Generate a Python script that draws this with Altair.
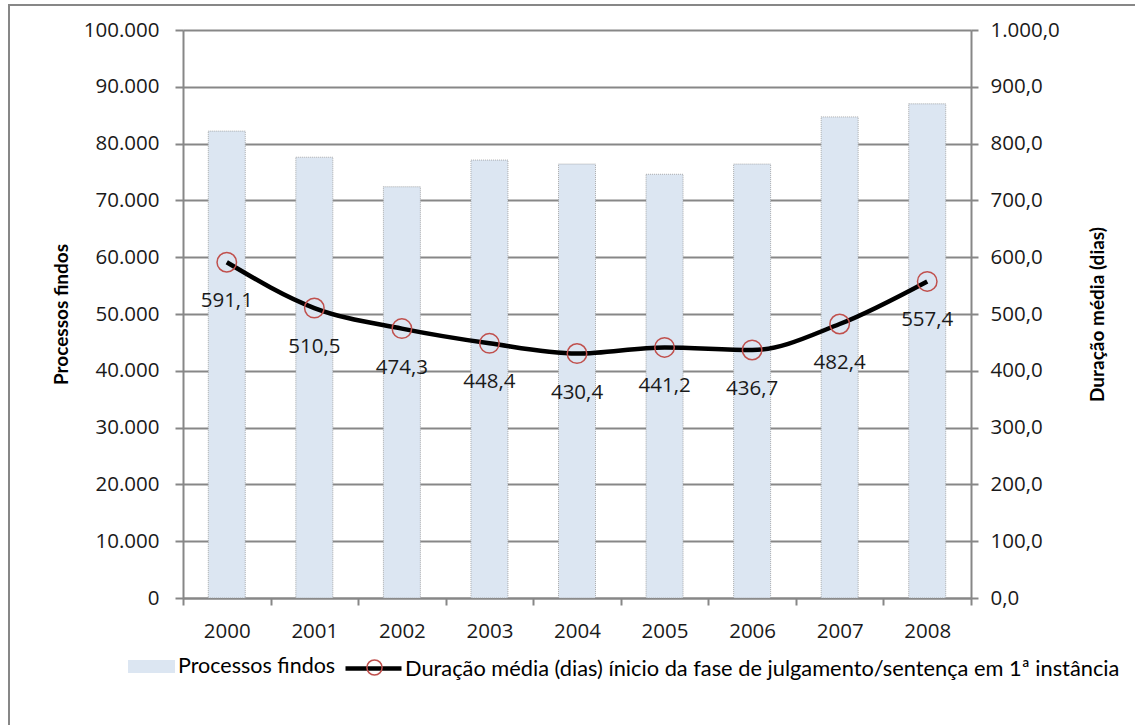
import altair as alt
import pandas as pd

# --- data -------------------------------------------------------------
anos = ["2000", "2001", "2002", "2003", "2004", "2005", "2006", "2007", "2008"]
processos_findos = [82200, 77600, 72400, 77100, 76400, 74600, 76400, 84700, 87000]
duracao_media = [591.1, 510.5, 474.3, 448.4, 430.4, 441.2, 436.7, 482.4, 557.4]

serie_barras = "Processos findos"
serie_linha = "Duração média (dias) ínicio da fase de julgamento/sentença em 1ª instância"

eixo_esq_valores = list(range(0, 100001, 10000))
eixo_dir_valores = list(range(0, 1001, 100))

df = pd.DataFrame({
    "ano": anos,
    "processos": processos_findos,
    "duracao": duracao_media,
    "s_bar": serie_barras,
    "s_line": serie_linha,
    "s_pt": " ",
})

# --- styling ------------------------------------------------------------
CINZA = "#878787"
TXT = "#1a1a1a"
FONTE = "Open Sans"
FONTE_TIT = "Lato"
FONTE_LEG = "Lato"

x_enc = alt.X(
    "ano:N", title=None, sort=anos,
    scale=alt.Scale(paddingInner=0, paddingOuter=0),
    axis=alt.Axis(labelAngle=0, tickBand="extent", grid=False,
                  domainColor=CINZA, domainWidth=2,
                  tickColor=CINZA, tickWidth=2, tickSize=7,
                  labelPadding=16, labelFont=FONTE, labelFontSize=20.5,
                  labelColor=TXT),
)

eixo_dir = alt.Axis(orient="right", title="Duração média (dias)", values=eixo_dir_valores,
                    format=",.1f", grid=False,
                    domainColor=CINZA, domainWidth=2,
                    tickColor=CINZA, tickWidth=2, tickSize=7,
                    labelPadding=12, labelFont=FONTE, labelFontSize=20.5, labelColor=TXT,
                    titleFont=FONTE_TIT, titleFontSize=19, titleFontWeight="bold",
                    titleColor="#000000", titleAngle=270, titleBaseline="top",
                    titlePadding=29)

y_dir = alt.Y("duracao:Q", scale=alt.Scale(domain=[0, 1000]), axis=eixo_dir)

# outer frame of the chart
moldura = alt.Chart(pd.DataFrame({"k": [0]})).mark_rect(
    fill="transparent", stroke=CINZA, strokeWidth=2
).encode(x=alt.value(-174), x2=alt.value(960), y=alt.value(-25), y2=alt.value(705))

barras = alt.Chart(df).mark_bar(
    size=37, stroke="#9a9a9a", strokeWidth=1, strokeDash=[1, 1], strokeOpacity=0.8
).encode(
    x=x_enc,
    y=alt.Y("processos:Q",
            scale=alt.Scale(domain=[0, 100000]),
            axis=alt.Axis(orient="left", title="Processos findos", values=eixo_esq_valores,
                          format=",d", grid=True, gridColor=CINZA, gridWidth=2,
                          domainColor=CINZA, domainWidth=2,
                          tickColor=CINZA, tickWidth=2, tickSize=8,
                          labelPadding=16, labelFont=FONTE, labelFontSize=20.5, labelColor=TXT,
                          titleFont=FONTE_TIT, titleFontSize=19, titleFontWeight="bold",
                          titleColor="#000000", titlePadding=12)),
    fill=alt.Fill("s_bar:N",
                  scale=alt.Scale(domain=[serie_barras], range=["#DCE6F2"]),
                  legend=alt.Legend(orient="none", legendX=-55, legendY=613, title=None,
                                    symbolType="M-1,-0.28L1,-0.28L1,0.28L-1,0.28Z",
                                    symbolSize=2209, symbolStrokeWidth=0,
                                    labelFont=FONTE_LEG, labelFontSize=21.5, labelColor="#000000",
                                    labelOffset=3, labelLimit=1000, padding=0)),
)

linha = alt.Chart(df).mark_line(strokeWidth=4.5, interpolate="monotone").encode(
    x=x_enc,
    y=y_dir,
    stroke=alt.Stroke("s_line:N",
                      scale=alt.Scale(domain=[serie_linha], range=["#000000"]),
                      legend=alt.Legend(orient="none", legendX=160, legendY=608, title=None,
                                        symbolType="M-1,0L1,0", symbolSize=3136,
                                        symbolStrokeWidth=4.5,
                                        labelFont=FONTE_LEG, labelFontSize=21.8,
                                        labelColor="#000000", labelOffset=1,
                                        labelLimit=1000, padding=0)),
)

pontos = alt.Chart(df).mark_point(
    filled=False, size=380, stroke="#C0504D", strokeWidth=1.5, opacity=1
).encode(
    x=x_enc,
    y=y_dir,
    shape=alt.Shape("s_pt:N",
                    scale=alt.Scale(domain=[" "], range=["circle"]),
                    legend=alt.Legend(orient="none", legendX=183, legendY=629, title=None,
                                      symbolType="circle", symbolSize=230,
                                      symbolStrokeColor="#C0504D", symbolStrokeWidth=1.5,
                                      symbolFillColor="transparent", labelFontSize=1,
                                      padding=0)),
)

rotulos = alt.Chart(df).mark_text(
    dy=39, font=FONTE, fontSize=20.5, color=TXT, baseline="middle", align="center"
).encode(
    x=x_enc,
    y=y_dir,
    text=alt.Text("duracao:Q", format=",.1f"),
)

chart = alt.layer(
    moldura, barras, alt.layer(linha, pontos, rotulos)
).resolve_scale(
    y="independent"
).properties(
    width=788, height=568,
    autosize=alt.AutoSizeParams(type="none"),
    padding={"left": 183, "top": 30, "right": 164, "bottom": 127},
).configure_view(
    stroke=None
).configure(
    locale={"number": {"decimal": ",", "thousands": ".", "grouping": [3], "currency": ["", " €"]}}
)

chart.save("out.html", embed_options={"renderer": "svg", "actions": False})
